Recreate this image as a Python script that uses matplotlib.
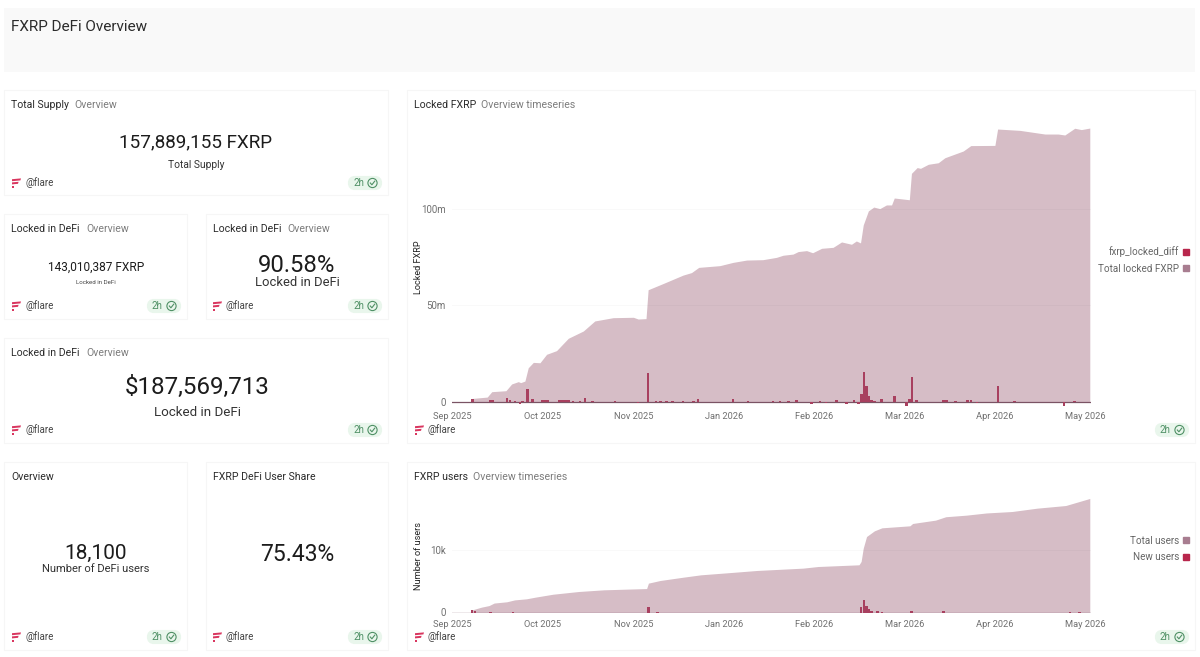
import matplotlib
matplotlib.use('Agg')
import matplotlib.pyplot as plt
from matplotlib.lines import Line2D
from matplotlib.patches import Circle, FancyBboxPatch, Polygon, Rectangle

plt.rcParams['font.family'] = ['Roboto', 'DejaVu Sans']

tick_labels = ['Sep 2025', 'Oct 2025', 'Nov 2025', 'Jan 2026', 'Feb 2026', 'Mar 2026', 'Apr 2026', 'May 2026']
tick_days = [0, 30, 60, 90, 120, 150, 180, 210]

# locked FXRP in millions
locked_days = [0, 6, 6.6, 11.5, 13, 17.7, 19.6, 21.8, 22.6, 24, 25.1, 26.8, 29, 31.2, 34.5, 38.4, 43.4, 47.2,
               53.3, 60, 61.6, 64.2, 64.9, 70, 76.5, 79.3, 81.7, 88.7, 93.1, 97.6, 103, 107.5, 109.7, 113,
               114.7, 117.5, 119.5, 122.5, 126.3, 129.1, 132.4, 134, 135.4, 136.3, 138, 139.8, 141.8, 144,
               145.7, 146.6, 151.6, 152.3, 154.2, 155.3, 157.9, 161.2, 163.4, 169.5, 172, 180, 180.9, 188.3,
               196.6, 201, 203.2, 206.5, 208.7, 211.5]
locked_total = [0, 0, 1.7, 2.4, 5.2, 5.7, 9.2, 10.4, 9.9, 10.7, 17.6, 20.4, 20.2, 24.6, 26.5, 32.9, 36.7, 41.9,
                43.6, 43.8, 42.9, 43.1, 58.1, 61.4, 65.7, 67, 69.7, 70.6, 72.3, 73.5, 73.7, 74.9, 76, 76.6,
                77.9, 78.4, 77.3, 79.6, 80.1, 82.9, 81.7, 83.4, 82.4, 91.7, 99, 101, 100.2, 102.1,
                102.1, 105.7, 104.8, 118.5, 121.5, 121.1, 123.2, 124, 126.6, 130.1, 132.9, 133, 141.5, 140.8,
                138.9, 138.9, 138.4, 141.9, 141.2, 142]

locked_diff_days = [6.6, 12.4, 13.3, 18.1, 19, 20.7, 22.3, 23.2, 24.9, 26.5, 29.9, 30.8, 31.7, 35.4, 36.4, 37.4,
                    38.4, 40, 42.3, 44, 46.5, 53.9, 61.6, 64.9, 67.5, 69, 71, 73, 76.5, 79.9, 81.5, 93.1, 98,
                    103, 106.4, 108.6, 111.4, 114.2, 119.1, 122, 124, 127.4, 130.8, 133.2, 134.8, 135.7, 136.5,
                    137.3, 138, 139, 140, 142.4, 146.7, 150.7, 151.6, 152.5, 154, 163, 164, 167, 171, 172, 174,
                    181, 186.6, 193, 197, 203, 206.5, 208]
locked_diff = [1.4, 1.0, 0.8, 1.7, 0.9, 0.4, -1.0, 0.5, 6.6, 1.4, 1.0, 0.8, 0.7, 0.8, 1.0, 0.9,
               0.9, 0.6, 0.5, 1.7, 0.5, 0.3, -0.6, 14.7, 0.5, 0.5, 0.3, 0.3, 0.6, 0.6, 1.2, 1.5, 0.3,
               -0.3, 0.5, 0.6, 0.4, 0.7, -1.0, 0.4, -0.5, 0.7, -1.0, 0.8, -1.0, 3.8, 15.2,
               8.0, 3.1, 0.8, 0.5, 1.5, 3.1, -2.0, 1.4, 12.6, 0.9, 0.9, 0.8, 0.6, 0.8, 0.9, -0.7,
               8.3, 0.3, -0.3, -0.3, -2.0, 0.4, -0.4]

# users in thousands
users_days = [0, 6, 6.5, 9.6, 12.1, 13.8, 18, 20.6, 24.5, 27.4, 33.3, 41.8, 50.2, 64.4, 65, 68.9, 76.5, 82.4,
              92.5, 101, 116.3, 121.3, 134.9, 135.6, 136.3, 137.4, 140, 142.5, 151.8, 152.7, 160.3, 163.7,
              170.5, 177.2, 185.7, 194, 203.5, 211.5]
users_total = [0, 0, 0.42, 0.85, 1.1, 1.5, 1.7, 2.0, 2.17, 2.43, 2.9, 3.33, 3.6, 3.8, 4.66, 5.08, 5.6, 5.98,
               6.35, 6.67, 7.04, 7.3, 7.57, 8.1, 10.2, 12.06, 12.96, 13.44, 13.76, 14.13, 14.66, 15.2,
               15.45, 15.8, 16.03, 16.56, 16.98, 18.1]

new_users_days = [6.5, 7.5, 12.6, 20, 65, 68, 135.6, 136.5, 137.3, 138, 139, 141, 142.5, 152.3, 163, 205, 208]
new_users = [0.4, 0.2, 0.15, 0.08, 0.85, 0.1, 0.85, 2.0, 1.1, 0.5, 0.3, 0.2, 0.15, 0.2, 0.2, 0.08, 0.08]

AREA = '#d6bdc6'
BAR = '#a8405f'
RED = '#b8264c'
MAUVE = '#a87d90'
INK = '#2b2b2b'
GREY = '#7c7c7c'
LOGO = '#d9365f'
W, H = 1200, 657

fig = plt.figure(figsize=(12, 6.57), dpi=100, facecolor='white')
bg = fig.add_axes([0, 0, 1, 1])
bg.set_xlim(0, W)
bg.set_ylim(H, 0)
bg.axis('off')


def card(x0, y0, x1, y1, title=None, sub=None, sub_x=None):
    bg.add_patch(Rectangle((x0, y0), x1 - x0, y1 - y0, fc='white', ec='#f6f6f6', lw=0.8))
    if title:
        bg.text(x0 + 7, y0 + 14.5, title, fontsize=7.6, color=INK, va='center')
    if sub:
        bg.text(sub_x, y0 + 14.5, sub, fontsize=7.6, color=GREY, va='center')


def footer(x0, x1, y):
    # flare logo, slanted bars
    lx = x0 + 8
    bg.add_patch(Polygon([(lx, y - 3.8), (lx + 9, y - 4.6), (lx + 8.4, y - 2.6), (lx, y - 1.8)], fc=LOGO, ec='none'))
    bg.add_patch(Polygon([(lx, y - 0.6), (lx + 6.6, y - 1.2), (lx + 6, y + 0.8), (lx, y + 1.4)], fc=LOGO, ec='none'))
    bg.add_patch(Rectangle((lx, y + 2.8), 1.8, 1.8, fc=LOGO, ec='none'))
    bg.text(x0 + 21, y, '@flare', fontsize=7, color='#444444', va='center')
    # freshness badge
    bg.add_patch(FancyBboxPatch((x1 - 38, y - 5), 30, 10, boxstyle='round,pad=0,rounding_size=5',
                                mutation_aspect=1, fc='#e9f6ec', ec='#e9f6ec', lw=3))
    bg.text(x1 - 35, y, '2h', fontsize=7, color='#4f9065', va='center')
    bg.add_patch(Circle((x1 - 15.5, y), 4.6, fc='none', ec='#4f9065', lw=0.8))
    bg.plot([x1 - 17.7, x1 - 16.1, x1 - 13.3], [y, y + 1.8, y - 1.8], color='#4f9065', lw=0.8)


def big(x, y, s, size, color='#1c1c1c'):
    bg.text(x, y, s, fontsize=size, color=color, ha='center', va='center_baseline')


bg.add_patch(Rectangle((4, 8), 1191, 64, fc='#f9f9f9', ec='none'))
bg.text(11, 27, 'FXRP DeFi Overview', fontsize=11, color=INK, va='center')

card(4, 90, 388, 195, 'Total Supply', 'Overview', 74)
big(196, 140, '157,889,155 FXRP', 13.6)
big(196, 164, 'Total Supply', 7.4, '#333333')
footer(4, 388, 183)

card(4, 214, 187, 319, 'Locked in DeFi', 'Overview', 86)
big(96, 266, '143,010,387 FXRP', 8.6)
big(96, 282, 'Locked in DeFi', 4.4, '#444444')
footer(4, 187, 306)

card(206, 214, 388, 319, 'Locked in DeFi', 'Overview', 287)
big(297, 262.5, '90.58%', 17.2)
big(297, 280.5, 'Locked in DeFi', 9.4, '#333333')
footer(205, 388, 306)

card(4, 338, 388, 443, 'Locked in DeFi', 'Overview', 86)
big(197, 385, '$187,569,713', 17.4)
big(197, 411, 'Locked in DeFi', 9.6, '#333333')
footer(4, 388, 430)

card(4, 462, 187, 650, 'Overview')
big(96, 551, '18,100', 15)
big(96, 568.5, 'Number of DeFi users', 8, '#333333')
footer(4, 187, 637)

card(206, 462, 388, 650, 'FXRP DeFi User Share')
big(297, 552, '75.43%', 16.5)
footer(205, 388, 637)

card(407, 90, 1195, 443, 'Locked FXRP', 'Overview timeseries', 481)
footer(407, 1195, 430)
card(407, 462, 1195, 650, 'FXRP users', 'Overview timeseries', 473)
footer(407, 1195, 637)


def chart(top, zero, per_unit, ymin, days, total, bar_days, bars, yticks, ylabels, ylabel, ylabel_y, handles, leg_y):
    bottom = zero - ymin * per_unit
    ax = fig.add_axes([452 / W, 1 - bottom / H, 639.3 / W, (bottom - top) / H])
    ax.patch.set_alpha(0)
    ax.set_xlim(-0.2, 212)
    ax.set_ylim(ymin, (zero - top) / per_unit)
    ax.fill_between(days, total, 0, color=AREA, lw=0, zorder=1)
    ax.bar(bar_days, bars, width=0.85, color=BAR, lw=0, zorder=3)
    ax.axhline(0, color='#7d5567', lw=0.9, zorder=2)
    ax.set_yticks(yticks)
    ax.set_yticklabels(ylabels)
    ax.set_xticks(tick_days)
    ax.set_xticklabels(tick_labels)
    ax.tick_params(length=0, labelcolor='#707070')
    ax.tick_params(axis='x', pad=5, labelsize=6.7)
    ax.tick_params(axis='y', pad=4.5, labelsize=7)
    ax.grid(axis='y', color='#000000', alpha=0.025, lw=0.8, zorder=4)
    ax.set_axisbelow(False)
    for s in ax.spines.values():
        s.set_visible(False)
    bg.text(418.5, ylabel_y, ylabel, rotation=90, fontsize=6.6, color='#222222', ha='center', va='center')
    ax.legend(handles=handles, loc='center right', bbox_to_anchor=(1190 / W, 1 - leg_y / H),
              bbox_transform=fig.transFigure, frameon=False, markerfirst=False, fontsize=7.1,
              labelcolor='#666666', alignment='right', handletextpad=0.2, labelspacing=0.65,
              borderpad=0, borderaxespad=0, handlelength=0.9)
    return ax


def dot(color, label):
    return Line2D([], [], ls='', marker='s', ms=4.6, color=color, label=label)


chart(120, 401.7, 1.927, -2, locked_days, locked_total, locked_diff_days, locked_diff,
      [0, 50, 100], ['0', '50m', '100m'], 'Locked FXRP', 267,
      [dot(RED, 'fxrp_locked_diff'), dot(MAUVE, 'Total locked FXRP')], 260)

chart(492, 612.5, 6.3, -0.1, users_days, users_total, new_users_days, new_users,
      [0, 10], ['0', '10k'], 'Number of users', 556,
      [dot(MAUVE, 'Total users'), dot(RED, 'New users')], 549)

fig.savefig('out.png', dpi=100)
